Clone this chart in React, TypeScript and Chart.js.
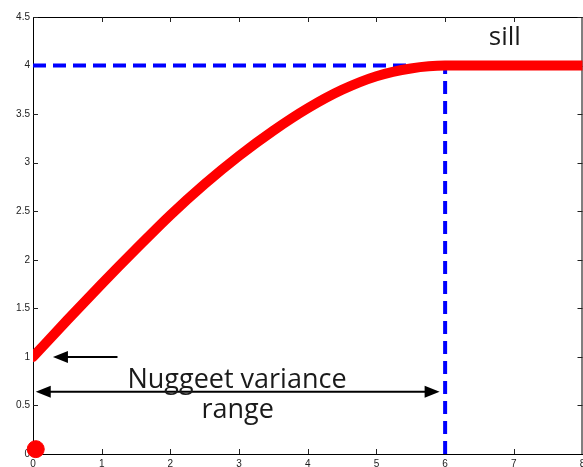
import React, { useEffect, useRef } from "react";
import { Chart, registerables } from "chart.js";

Chart.register(...registerables);

// Lag distances and semivariance of the fitted model curve
const lagX = [0, 0.5, 1, 1.5, 2, 2.5, 3, 3.5, 4, 4.5, 5, 5.5, 6, 7, 8];
const gammaY = [1.0, 1.38, 1.75, 2.11, 2.46, 2.78, 3.07, 3.33, 3.56, 3.75, 3.89, 3.97, 4.0, 4.0, 4.0];

// Model parameters shown as guides
const sillValue = 4;
const rangeValue = 6;
const nuggetValue = 1;

// Origin marker
const originX = [0.04];
const originY = [0.05];

// Axis ticks
const xTicks = [0, 1, 2, 3, 4, 5, 6, 7, 8];
const yTicks = [0, 0.5, 1, 1.5, 2, 2.5, 3, 3.5, 4, 4.5];

// Annotation text
const sillLabel = "sill";
const nuggetLabel = "Nuggeet variance";
const rangeLabel = "range";

const TEXT_FONT = '"Open Sans", "Noto Sans", sans-serif';
const TICK_FONT = "Liberation Sans, Arial, sans-serif";

function drawArrowHead(ctx: CanvasRenderingContext2D, x: number, y: number, dir: number) {
  const len = 15;
  const half = 6;
  ctx.beginPath();
  ctx.moveTo(x, y);
  ctx.lineTo(x - dir * len, y - half);
  ctx.lineTo(x - dir * len, y + half);
  ctx.closePath();
  ctx.fill();
}

const framePlugin = {
  id: "frameAndNotes",
  beforeDatasetsDraw(chart: any) {
    const { ctx, chartArea, scales } = chart;
    const xs = scales.x;
    const ys = scales.y;
    ctx.save();
    ctx.strokeStyle = "#000";
    ctx.lineWidth = 1;
    // top and right frame lines
    ctx.beginPath();
    ctx.moveTo(chartArea.left, chartArea.top + 0.5);
    ctx.lineTo(chartArea.right, chartArea.top + 0.5);
    ctx.moveTo(chartArea.right - 0.5, chartArea.top);
    ctx.lineTo(chartArea.right - 0.5, chartArea.bottom);
    ctx.stroke();
    // inward tick marks on all four sides
    ctx.strokeStyle = "#222";
    ctx.beginPath();
    xTicks.slice(1, -1).forEach((v) => {
      const px = Math.round(xs.getPixelForValue(v)) + 0.5;
      ctx.moveTo(px, chartArea.bottom);
      ctx.lineTo(px, chartArea.bottom - 5);
      ctx.moveTo(px, chartArea.top);
      ctx.lineTo(px, chartArea.top + 5);
    });
    yTicks.slice(1).forEach((v) => {
      const py = Math.round(ys.getPixelForValue(v)) + 0.5;
      ctx.moveTo(chartArea.left, py);
      ctx.lineTo(chartArea.left + 5, py);
      ctx.moveTo(chartArea.right, py);
      ctx.lineTo(chartArea.right - 5, py);
    });
    ctx.stroke();
    ctx.restore();
  },
  afterDraw(chart: any) {
    const { ctx, scales } = chart;
    const xs = scales.x;
    const ys = scales.y;
    ctx.save();
    ctx.fillStyle = "#000";
    ctx.strokeStyle = "#000";
    ctx.lineWidth = 2;

    // nugget pointer
    const ny = ys.getPixelForValue(nuggetValue);
    const nx0 = xs.getPixelForValue(1.23);
    const nx1 = xs.getPixelForValue(0.29);
    ctx.beginPath();
    ctx.moveTo(nx0, ny);
    ctx.lineTo(nx1 + 10, ny);
    ctx.stroke();
    drawArrowHead(ctx, nx1, ny, -1);

    // range double arrow
    const ry = ys.getPixelForValue(0.64);
    const rx0 = xs.getPixelForValue(0.04);
    const rx1 = xs.getPixelForValue(rangeValue - 0.08);
    ctx.beginPath();
    ctx.moveTo(rx0 + 10, ry);
    ctx.lineTo(rx1 - 10, ry);
    ctx.stroke();
    drawArrowHead(ctx, rx0, ry, -1);
    drawArrowHead(ctx, rx1, ry, 1);

    // labels
    ctx.fillStyle = "#1a1a1a";
    ctx.textAlign = "center";
    ctx.textBaseline = "alphabetic";
    ctx.font = `27px ${TEXT_FONT}`;
    ctx.fillText(nuggetLabel, xs.getPixelForValue(2.97), ys.getPixelForValue(0.675));
    ctx.fillText(rangeLabel, xs.getPixelForValue(2.98), ys.getPixelForValue(0.37));
    ctx.font = `26px ${TEXT_FONT}`;
    ctx.fillText(sillLabel, xs.getPixelForValue(6.87), ys.getPixelForValue(4.21));
    ctx.restore();
  },
};

export default function App() {
  const canvasRef = useRef<HTMLCanvasElement | null>(null);

  useEffect(() => {
    const canvas = canvasRef.current;
    if (!canvas) return;
    const chart = new Chart(canvas, {
      type: "line",
      data: {
        datasets: [
          {
            label: "model",
            data: lagX.map((x, i) => ({ x, y: gammaY[i] })),
            borderColor: "#ff0000",
            borderWidth: 10,
            borderCapStyle: "round",
            borderJoinStyle: "round",
            cubicInterpolationMode: "monotone",
            pointRadius: 0,
            fill: false,
          },
          {
            label: "origin",
            type: "scatter",
            data: originX.map((x, i) => ({ x, y: originY[i] })),
            backgroundColor: "#ff0000",
            borderColor: "#ff0000",
            pointRadius: 8.5,
            clip: false,
          } as any,
          {
            label: "sill",
            data: [
              { x: 0, y: sillValue },
              { x: rangeValue, y: sillValue },
            ],
            borderColor: "#0000ff",
            borderWidth: 4,
            borderDash: [13, 7],
            pointRadius: 0,
            fill: false,
          },
          {
            label: "range",
            data: [
              { x: rangeValue, y: 0 },
              { x: rangeValue, y: sillValue },
            ],
            borderColor: "#0000ff",
            borderWidth: 4,
            borderDash: [13, 7],
            pointRadius: 0,
            fill: false,
          },
        ],
      },
      options: {
        responsive: false,
        animation: false,
        events: [],
        layout: { padding: { top: 17, right: 9, left: 0, bottom: 0 } },
        plugins: { legend: { display: false }, tooltip: { enabled: false } },
        scales: {
          x: {
            type: "linear",
            min: xTicks[0],
            max: xTicks[xTicks.length - 1],
            afterBuildTicks: (s: any) => {
              s.ticks = xTicks.map((v) => ({ value: v }));
            },
            afterFit: (s: any) => {
              s.height = 26;
            },
            grid: { display: false, drawTicks: false },
            border: { display: true, color: "#000", width: 1 },
            ticks: {
              padding: 4,
              color: "#222",
              font: { family: TICK_FONT, size: 10 },
              maxRotation: 0,
              autoSkip: false,
              callback: (v: any) => String(v),
            },
          },
          y: {
            type: "linear",
            min: yTicks[0],
            max: yTicks[yTicks.length - 1],
            afterBuildTicks: (s: any) => {
              s.ticks = yTicks.map((v) => ({ value: v }));
            },
            afterFit: (s: any) => {
              s.width = 33;
            },
            grid: { display: false, drawTicks: false },
            border: { display: true, color: "#000", width: 1 },
            ticks: {
              padding: 3,
              color: "#222",
              font: { family: TICK_FONT, size: 10 },
              autoSkip: false,
              callback: (v: any) => String(v),
            },
          },
        },
      },
      plugins: [framePlugin],
    } as any);
    return () => chart.destroy();
  }, []);

  return (
    <div
      style={{
        position: "fixed",
        left: 0,
        top: 0,
        width: 583,
        height: 467,
        overflow: "hidden",
        background: "#fff",
      }}
    >
      <canvas ref={canvasRef} width={592} height={480} style={{ display: "block" }} />
    </div>
  );
}
